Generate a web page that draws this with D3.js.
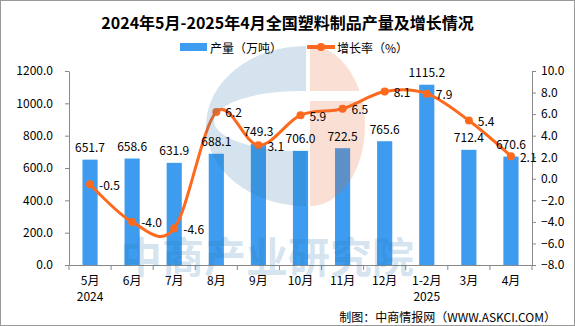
<!DOCTYPE html>
<html>
<head>
<meta charset="utf-8">
<script src="https://cdn.jsdelivr.net/npm/d3@7"></script>
<style>
  body { margin: 0; background: #fff; }
  svg text { font-family: "Noto Sans CJK SC", sans-serif; }
</style>
</head>
<body>
<div id="chart"></div>
<script>
// ----------------------------------------------------------------------------
// data
// ----------------------------------------------------------------------------
const months = ['5月', '6月', '7月', '8月', '9月', '10月', '11月', '12月', '1-2月', '3月', '4月'];
const years = ['2024', '', '', '', '', '', '', '', '2025', '', ''];
const output = [651.7, 658.6, 631.9, 688.1, 749.3, 706.0, 722.5, 765.6, 1115.2, 712.4, 670.6];   // 万吨
const growth = [-0.5, -4.0, -4.6, 6.2, 3.1, 5.9, 6.5, 8.1, 7.9, 5.4, 2.1];                    // %
const leftTicks = [0, 200, 400, 600, 800, 1000, 1200];
const rightTicks = [-8, -6, -4, -2, 0, 2, 4, 6, 8, 10];

const W = 575, H = 326;
const plot = {left: 69, right: 532, top: 71, bottom: 265};
const barColor = '#3d9cef';
const lineColor = '#fd6a1e';
const axisColor = '#888';

const svg = d3.select('#chart').append('svg')
  .attr('width', W).attr('height', H);

svg.append('rect')
  .attr('x', 0.5).attr('y', 0.5).attr('width', W - 1).attr('height', H - 1)
  .attr('fill', '#fff').attr('stroke', '#999');

// ----------------------------------------------------------------------------
// title + legend
// ----------------------------------------------------------------------------
svg.append('text')
  .attr('x', W / 2).attr('y', 22)
  .attr('text-anchor', 'middle').attr('dominant-baseline', 'central')
  .style('font-size', '16px').style('font-weight', 700)
  .text('2024年5月-2025年4月全国塑料制品产量及增长情况');

const legend = svg.append('g');
legend.append('rect')
  .attr('x', 180).attr('y', 43).attr('width', 27).attr('height', 8)
  .attr('fill', barColor);
legend.append('text')
  .attr('x', 210).attr('y', 47).attr('dominant-baseline', 'central')
  .style('font-size', '12px').text('产量（万吨）');
legend.append('line')
  .attr('x1', 307).attr('x2', 335).attr('y1', 47).attr('y2', 47)
  .attr('stroke', lineColor).attr('stroke-width', 4);
legend.append('circle')
  .attr('cx', 321).attr('cy', 47).attr('r', 4).attr('fill', lineColor);
legend.append('text')
  .attr('x', 337).attr('y', 47).attr('dominant-baseline', 'central')
  .style('font-size', '12px').text('增长率（%）');

// ----------------------------------------------------------------------------
// scales + axes
// ----------------------------------------------------------------------------
const xScale = d3.scaleBand().domain(months).range([plot.left, plot.right]).padding(0);
const yLeft = d3.scaleLinear().domain([0, 1200]).range([plot.bottom, plot.top]);
const yRight = d3.scaleLinear().domain([-8, 10]).range([plot.bottom, plot.top]);
const cx = (d, i) => xScale(months[i]) + xScale.bandwidth() / 2;

const fmt = d3.format('.1f');

const gLeft = svg.append('g').attr('transform', `translate(${plot.left},0)`)
  .call(d3.axisLeft(yLeft).tickValues(leftTicks).tickFormat(fmt)
    .tickSize(4).tickSizeOuter(0).tickPadding(12));

const gRight = svg.append('g').attr('transform', `translate(${plot.right},0)`)
  .call(d3.axisRight(yRight).tickValues(rightTicks).tickFormat(fmt)
    .tickSize(4).tickSizeOuter(0).tickPadding(5));

const gX = svg.append('g').attr('transform', `translate(0,${plot.bottom})`)
  .call(d3.axisBottom(xScale).tickSize(0).tickPadding(11));
gX.selectAll('.tick').each(function(d, i) {
  if (years[i]) {
    d3.select(this).append('text')
      .attr('y', 30).attr('dominant-baseline', 'central')
      .attr('fill', '#000').text(years[i]);
  }
});

// category separators on the x axis
gX.selectAll('.sep')
  .data(d3.range(months.length + 1))
  .enter().append('line')
  .attr('class', 'sep')
  .attr('x1', i => plot.left + i * xScale.step())
  .attr('x2', i => plot.left + i * xScale.step())
  .attr('y1', 0).attr('y2', 5)
  .attr('stroke', axisColor);

[gLeft, gRight, gX].forEach(g => {
  g.selectAll('path.domain').attr('stroke', axisColor);
  g.selectAll('.tick line').attr('stroke', axisColor);
  g.selectAll('text').attr('fill', '#000')
    .style('font-size', '12px')
    .style('font-family', '"Noto Sans CJK SC", sans-serif');
});

// ----------------------------------------------------------------------------
// bars
// ----------------------------------------------------------------------------
const barW = xScale.bandwidth() * 0.36;

svg.append('g').selectAll('rect')
  .data(output)
  .enter().append('rect')
  .attr('x', (d, i) => cx(d, i) - barW / 2)
  .attr('y', d => yLeft(d))
  .attr('width', barW)
  .attr('height', d => plot.bottom - yLeft(d))
  .attr('fill', barColor);

// ----------------------------------------------------------------------------
// growth line (smoothed) + markers
// ----------------------------------------------------------------------------
const growthLine = d3.line()
  .x((d, i) => cx(d, i))
  .y(d => yRight(d))
  .curve(d3.curveCardinal.tension(0));

svg.append('path')
  .attr('d', growthLine(growth))
  .attr('fill', 'none')
  .attr('stroke', lineColor)
  .attr('stroke-width', 3);

svg.append('g').selectAll('circle')
  .data(growth)
  .enter().append('circle')
  .attr('cx', (d, i) => cx(d, i))
  .attr('cy', d => yRight(d))
  .attr('r', 4)
  .attr('fill', lineColor);

// ----------------------------------------------------------------------------
// watermark
// ----------------------------------------------------------------------------
const defs = svg.append('defs');
const holeMask = defs.append('mask').attr('id', 'hole');
holeMask.append('rect').attr('width', W).attr('height', H).attr('fill', '#fff');
holeMask.append('ellipse').attr('cx', 300).attr('cy', 121).attr('rx', 86).attr('ry', 30).attr('fill', '#000');
const bandMask = defs.append('mask').attr('id', 'band');
bandMask.append('rect').attr('width', W).attr('height', H).attr('fill', '#fff');
bandMask.append('rect').attr('x', 300).attr('y', 91).attr('width', 80).attr('height', 10).attr('fill', '#000');

const mark = svg.append('g').attr('pointer-events', 'none');
mark.append('path')
  .attr('d', 'M306,46 A100,80 0 0 0 306,206 Z')
  .attr('fill', '#2873aa').attr('fill-opacity', 0.2)
  .attr('mask', 'url(#hole)');
mark.append('path')
  .attr('d', 'M310,46 A55,80 0 0 1 310,206 Z')
  .attr('fill', '#e8642a').attr('fill-opacity', 0.2)
  .attr('mask', 'url(#band)');
mark.append('text')
  .attr('x', 267).attr('y', 254)
  .attr('text-anchor', 'middle').attr('dominant-baseline', 'central')
  .style('font-size', '42px').style('font-weight', 700)
  .attr('fill', '#2873aa').attr('fill-opacity', 0.2)
  .text('中商产业研究院');

// ----------------------------------------------------------------------------
// value labels
// ----------------------------------------------------------------------------
svg.append('g').selectAll('text')
  .data(output)
  .enter().append('text')
  .attr('x', (d, i) => cx(d, i))
  .attr('y', d => yLeft(d) - 13)
  .attr('text-anchor', 'middle').attr('dominant-baseline', 'central')
  .style('font-size', '12px')
  .text(d => d.toFixed(1));

svg.append('g').selectAll('text')
  .data(growth)
  .enter().append('text')
  .attr('x', (d, i) => cx(d, i) + 9)
  .attr('y', d => yRight(d))
  .attr('dominant-baseline', 'central')
  .style('font-size', '12px')
  .text(d => d.toFixed(1));

// ----------------------------------------------------------------------------
// source
// ----------------------------------------------------------------------------
svg.append('text')
  .attr('x', 556).attr('y', 316)
  .attr('text-anchor', 'end').attr('dominant-baseline', 'central')
  .style('font-size', '12px')
  .text('制图：中商情报网（WWW.ASKCI.COM）');
</script>
</body>
</html>
